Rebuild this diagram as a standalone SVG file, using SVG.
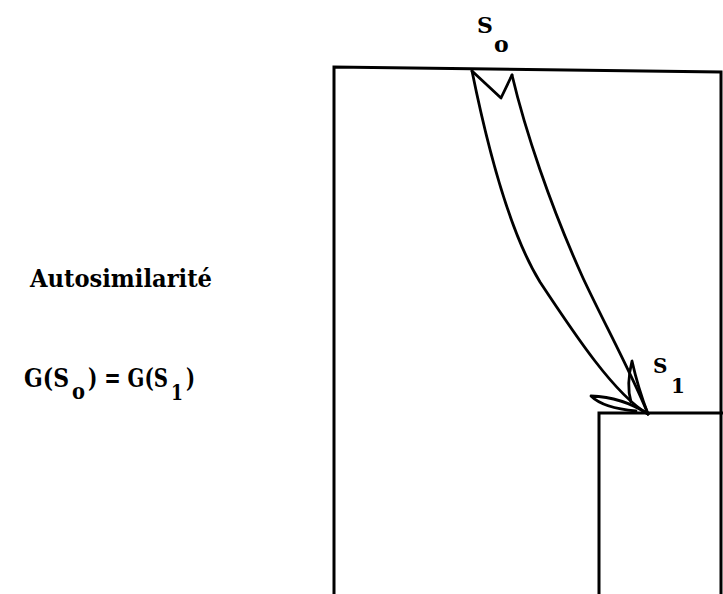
<svg xmlns="http://www.w3.org/2000/svg" width="723" height="594" viewBox="0 0 723 594">
<style>
.ln{fill:none;stroke:#000;stroke-width:2.8;stroke-linejoin:round;stroke-linecap:round}
.bx{fill:none;stroke:#000;stroke-width:3}
.t{font-family:"DejaVu Serif",serif;font-weight:bold;fill:#000}
</style>
<rect width="723" height="594" fill="#fff"/>
<g id="outer-square">
<path class="bx" d="M334,596 L334,67 L721,72 L721,596"/>
</g>
<g id="inner-square">
<path class="bx" d="M599,596 L599,413 L725,413"/>
</g>
<g id="label-s0">
<text class="t" x="477" y="33" font-size="22">S</text>
<text class="t" x="494" y="52" font-size="22">o</text>
</g>
<g id="label-s1">
<text class="t" x="653" y="373" font-size="20">S</text>
<text class="t" x="671" y="393" font-size="20">1</text>
</g>
<g id="title">
<text class="t" x="30" y="287" font-size="25" textLength="182" lengthAdjust="spacingAndGlyphs">Autosimilarité</text>
</g>
<g id="formula">
<text class="t" x="24" y="387" font-size="26" textLength="45" lengthAdjust="spacingAndGlyphs">G(S</text>
<text class="t" x="72" y="399" font-size="22" textLength="13" lengthAdjust="spacingAndGlyphs">o</text>
<text class="t" x="88" y="387" font-size="26" textLength="80" lengthAdjust="spacingAndGlyphs">) = G(S</text>
<text class="t" x="171" y="400" font-size="23" textLength="12" lengthAdjust="spacingAndGlyphs">1</text>
<text class="t" x="186" y="387" font-size="26" textLength="9" lengthAdjust="spacingAndGlyphs">)</text>
</g>
<g id="connectors">
<path class="ln" d="M472,71 C486,140 508,230 540,282 C575,335 615,395 648,414"/>
<path class="ln" d="M512,75 C525,130 550,205 583,278 C605,325 630,370 648,414"/>
<path class="ln" d="M472,71 L501,98 L512,75"/>
<path class="ln" d="M648,414 Q638,388 632,361 Q626,385 631,402"/>
<path class="ln" d="M648,414 Q622,397 591,396 Q603,408 636,411"/>
</g>
</svg>
